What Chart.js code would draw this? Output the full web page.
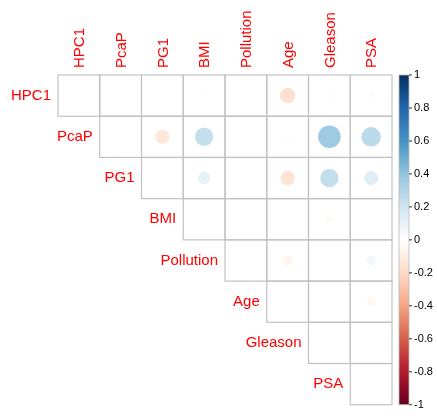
<!DOCTYPE html>
<html>
<head>
<meta charset="utf-8">
<script src="https://cdn.jsdelivr.net/npm/chart.js@4"></script>
<style>
  html, body { margin: 0; padding: 0; background: #fff; }
  #wrap { width: 437px; height: 416px; }
</style>
</head>
<body>
<div id="wrap"><canvas id="chart" width="437" height="416"></canvas></div>
<script>
// variable names (rows and columns of the correlation matrix)
const vars = ["HPC1", "PcaP", "PG1", "BMI", "Pollution", "Age", "Gleason", "PSA"];

// upper triangle, each row starts on the diagonal
const rowHPC1 = [0.01, 0.005, 0.005, 0.015, 0.005, -0.17, 0.02, -0.02];
const rowPcaP = [0.005, -0.14, 0.24, 0.003, 0.02, 0.36, 0.27];
const rowPG1 = [0.005, 0.11, 0.008, -0.15, 0.24, 0.14];
const rowBMI = [0.005, 0, 0.005, -0.035, 0.01];
const rowPollution = [0.005, -0.06, 0.005, 0.06];
const rowAge = [0.005, 0.01, -0.045];
const rowGleason = [0.003, 0.003];
const rowPSA = [0.003];

const rows = [rowHPC1, rowPcaP, rowPG1, rowBMI, rowPollution, rowAge, rowGleason, rowPSA];

// colour bar ticks
const legendTicks = [1, 0.8, 0.6, 0.4, 0.2, 0, -0.2, -0.4, -0.6, -0.8, -1];

// RdBu palette, -1 .. 1
const palette = ["#67001F", "#B2182B", "#D6604D", "#F4A582", "#FDDBC7", "#FFFFFF",
                 "#D1E5F0", "#92C5DE", "#4393C3", "#2166AC", "#053061"];

const PAD = { left: 58, top: 75, right: 45, bottom: 8 };

function hexToRgb(h) {
  return [parseInt(h.slice(1, 3), 16), parseInt(h.slice(3, 5), 16), parseInt(h.slice(5, 7), 16)];
}

function colorFor(v) {
  const pos = (Math.max(-1, Math.min(1, v)) + 1) / 2 * (palette.length - 1);
  const i = Math.min(Math.floor(pos), palette.length - 2);
  const t = pos - i;
  const a = hexToRgb(palette[i]);
  const b = hexToRgb(palette[i + 1]);
  const c = a.map((x, k) => Math.round(x + (b[k] - x) * t));
  return `rgb(${c[0]}, ${c[1]}, ${c[2]})`;
}

const points = [];
rows.forEach((row, i) => {
  row.forEach((v, k) => {
    points.push({ x: i + k, y: i, v: v });
  });
});

const FONT = "Liberation Sans, Arial, sans-serif";

// circle area follows |r|, like corrplot.
// radii get resolved before the scales are laid out, so take the cell size
// from the canvas width and the layout padding (one cell per variable)
function circleRadius(c) {
  if (!c.raw) return 0;
  const cell = (c.chart.width - PAD.left - PAD.right) / vars.length;
  return 0.45 * Math.sqrt(Math.abs(c.raw.v)) * cell;
}

const corrPlugin = {
  id: "corrGrid",
  beforeDatasetsDraw(chart) {
    const { ctx, scales } = chart;
    const xs = scales.x, ys = scales.y;
    ctx.save();
    ctx.strokeStyle = "#c2c2c2";
    ctx.lineWidth = 1.2;
    rows.forEach((row, i) => {
      row.forEach((v, k) => {
        const j = i + k;
        const x0 = xs.getPixelForValue(j - 0.5), x1 = xs.getPixelForValue(j + 0.5);
        const y0 = ys.getPixelForValue(i - 0.5), y1 = ys.getPixelForValue(i + 0.5);
        ctx.strokeRect(x0, y0, x1 - x0, y1 - y0);
      });
    });
    ctx.restore();
  },
  afterDraw(chart) {
    const { ctx, scales, chartArea } = chart;
    const xs = scales.x, ys = scales.y;
    ctx.save();
    ctx.fillStyle = "#ff0000";
    ctx.font = "15px " + FONT;

    // row labels, stair-stepped
    ctx.textAlign = "right";
    ctx.textBaseline = "middle";
    vars.forEach((name, i) => {
      ctx.fillText(name, xs.getPixelForValue(i - 0.5) - 7, ys.getPixelForValue(i));
    });

    // column labels, vertical
    vars.forEach((name, j) => {
      ctx.save();
      ctx.translate(xs.getPixelForValue(j) + 1, chartArea.top - 7);
      ctx.rotate(-Math.PI / 2);
      ctx.textAlign = "left";
      ctx.textBaseline = "middle";
      ctx.fillText(name, 0, 0);
      ctx.restore();
    });

    // colour bar
    const bx = chartArea.right + 7, bw = 10;
    const top = chartArea.top, bottom = chartArea.bottom;
    const grad = ctx.createLinearGradient(0, bottom, 0, top);
    palette.forEach((c, k) => grad.addColorStop(k / (palette.length - 1), c));
    ctx.fillStyle = grad;
    ctx.fillRect(bx, top, bw, bottom - top);
    ctx.strokeStyle = "#bbbbbb";
    ctx.lineWidth = 0.8;
    ctx.strokeRect(bx, top, bw, bottom - top);

    ctx.fillStyle = "#000";
    ctx.strokeStyle = "#000";
    ctx.font = "11px " + FONT;
    ctx.textAlign = "left";
    ctx.textBaseline = "middle";
    legendTicks.forEach((t) => {
      const y = bottom - (t + 1) / 2 * (bottom - top);
      ctx.beginPath();
      ctx.moveTo(bx + bw, y);
      ctx.lineTo(bx + bw + 3, y);
      ctx.stroke();
      ctx.fillText(String(t), bx + bw + 5, y);
    });
    ctx.restore();
  }
};

new Chart(document.getElementById("chart"), {
  type: "bubble",
  data: {
    datasets: [{
      data: points,
      backgroundColor: (c) => colorFor(c.raw ? c.raw.v : 0),
      borderColor: (c) => colorFor(c.raw ? c.raw.v : 0),
      borderWidth: 0,
      radius: circleRadius
    }]
  },
  options: {
    responsive: false,
    animation: false,
    events: [],
    layout: { padding: PAD },
    plugins: { legend: { display: false }, tooltip: { enabled: false } },
    scales: {
      x: { type: "linear", min: -0.5, max: 7.5, display: false },
      y: { type: "linear", min: -0.5, max: 7.5, reverse: true, display: false }
    }
  },
  plugins: [corrPlugin]
});
</script>
</body>
</html>
